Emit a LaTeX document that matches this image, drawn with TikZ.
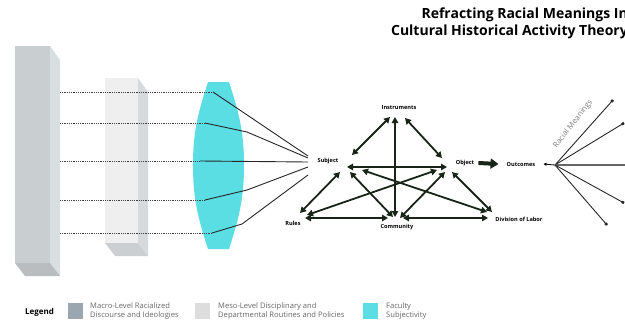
\documentclass[tikz,border=0pt]{standalone}
\usepackage{fontspec}
\setmainfont{Open Sans}
\usetikzlibrary{arrows.meta}

\definecolor{tri}{HTML}{172417}
\definecolor{lens}{HTML}{5ADDE3}
\definecolor{macroFront}{HTML}{C9CED1}
\definecolor{macroSide}{HTML}{D9DEE1}
\definecolor{mesoFront}{HTML}{EFEFEF}
\definecolor{mesoSide}{HTML}{D6DADD}
\definecolor{keyMacro}{HTML}{9AA6B0}
\definecolor{keyMeso}{HTML}{DDDDDD}

\tikzset{
  lbl/.style={font=\bfseries\fontsize{5.6}{6}\selectfont, inner sep=0pt},
  link/.style={line width=1.8pt, draw=tri, {Triangle[length=6pt,width=6.5pt]}-{Triangle[length=6pt,width=6.5pt]}},
  beam/.style={densely dotted, line width=0.8pt, draw=black!75},
  ray/.style={line width=0.9pt, draw=black!85},
  fan/.style={line width=0.9pt, draw=black!85, -{Square[length=2.5pt,width=2.5pt]}},
  key/.style={font=\fontsize{7.6}{9}\selectfont, text=black!60, align=left, anchor=west, inner sep=0pt},
  swatch/.style={minimum width=15pt, minimum height=16pt, inner sep=0pt, anchor=west},
}

\begin{document}
\begin{tikzpicture}[x=1pt, y=-1pt]

\clip (0,0) rectangle (625,327);

% title
\node[anchor=north east, align=right, inner sep=0pt, font=\bfseries\fontsize{14}{17}\selectfont] (title) at (628,8)
  {Refracting Racial Meanings In\\Cultural Historical Activity Theory};

% macro level block
\fill[macroFront] (15,46) rectangle (50,263);
\fill[macroSide] (50,46) -- (60,60) -- (60,276) -- (50,263) -- cycle;
\fill[macroFront!92!black] (15,263) -- (50,263) -- (60,276) -- (25,276) -- cycle;

% meso level block
\fill[mesoFront] (105,78) rectangle (138,243);
\fill[mesoSide] (138,78) -- (148,92) -- (148,256) -- (138,243) -- cycle;
\fill[mesoSide!95!black] (105,243) -- (138,243) -- (148,256) -- (115,256) -- cycle;

% faculty lens
\fill[lens] (208,82) -- (229,82) to[out=-72,in=90] (244,165) to[out=-90,in=72] (229,249)
  -- (208,249) to[out=108,in=-90] (193,165) to[out=90,in=-108] (208,82) -- cycle;

% points on the lens
\coordinate (p1) at (213,92);
\coordinate (p2) at (205,123);
\coordinate (p3) at (200,161);
\coordinate (p4) at (205,200);
\coordinate (p5) at (212,233);

\foreach \i in {1,...,5}
  \draw[beam] (60,0 |- p\i) -- (p\i);

% activity system
\node[lbl] (sub) at (328,161) {Subject};
\node[lbl] (ins) at (399,108) {Instruments};
\node[lbl] (obj) at (465,163) {Object};
\node[lbl] (rul) at (293,223) {Rules};
\node[lbl] (com) at (397,227) {Community};
\node[lbl] (div) at (519,219) {Division of Labor};
\node[lbl] (out) at (521,164) {Outcomes};

% refracted rays into the subject
\draw[ray] (p1) -- ([shift={(-20,-5)}]sub.center);
\draw[ray] (p2) -- (247,132) -- ([shift={(-20,-3)}]sub.center);
\draw[ray] (p3) -- ([shift={(-20,1)}]sub.center);
\draw[ray] (p4) -- (247,190) -- ([shift={(-20,6)}]sub.center);
\draw[ray] (p5) -- (242,224) -- ([shift={(-20,14)}]sub.center);

\draw[link] ([shift={(24,-6)}]sub.center) -- ([shift={(-9,9)}]ins.center);
\draw[link] ([shift={(6,10)}]ins.center) -- ([shift={(-23,-5)}]obj.center);
\draw[link] ([shift={(-4,9)}]ins.center) -- ([shift={(-2,-10)}]com.center);
\draw[link] ([shift={(19,6)}]sub.center) -- ([shift={(-18,4)}]obj.center);
\draw[link] ([shift={(22,11)}]sub.center) -- ([shift={(-4,-10)}]com.center);
\draw[link] ([shift={(34,9)}]sub.center) -- ([shift={(-32,-7)}]div.center);
\draw[link] ([shift={(12,11)}]sub.center) -- ([shift={(7,-10)}]rul.center);
\draw[link] ([shift={(-28,7)}]obj.center) -- ([shift={(14,-8)}]rul.center);
\draw[link] ([shift={(-20,9)}]obj.center) -- ([shift={(3,-9)}]com.center);
\draw[link] ([shift={(-13,9)}]obj.center) -- ([shift={(-27,-7)}]div.center);
\draw[link] ([shift={(12,-5)}]rul.center) -- ([shift={(-9,-9)}]com.center);
\draw[link] ([shift={(6,-9)}]com.center) -- ([shift={(-31,-1)}]div.center);

\draw[draw=tri, line width=4pt, -{Triangle[length=8pt,width=10pt]}] ([xshift=4]obj.east) -- ([xshift=-8]out.west);

% racial meanings fanning out
\coordinate (hub) at (555,165);
\draw[line width=0.8pt, -{Triangle[length=3pt,width=3pt]}] (hub) -- ([xshift=8]out.east);
\draw[fan] (hub) -- (613,100);
\draw[fan] (hub) -- (624,123);
\draw[line width=1.2pt, draw=black!60] (hub) -- (630,165);
\draw[fan] (hub) -- (624,203);
\draw[fan] (hub) -- (607,225);
\node[rotate=52, text=black!50, inner sep=0pt, font=\fontsize{7.8}{8}\selectfont] (meanings) at (573,124) {Racial Meanings};

% legend
\node[anchor=west, inner sep=0pt, font=\bfseries\fontsize{8}{8}\selectfont] (legend) at (25,312) {Legend};
\node[swatch, fill=keyMacro] (k1) at (68,311) {};
\node[key] (t1) at (90,311) {Macro-Level Racialized\\Discourse and Ideologies};
\node[swatch, fill=keyMeso] (k2) at (195,311) {};
\node[key] (t2) at (218,311) {Meso-Level Disciplinary and\\Departmental Routines and Policies};
\node[swatch, fill=lens] (k3) at (363,311) {};
\node[key] (t3) at (386,311) {Faculty\\Subjectivity};

\end{tikzpicture}
\end{document}
